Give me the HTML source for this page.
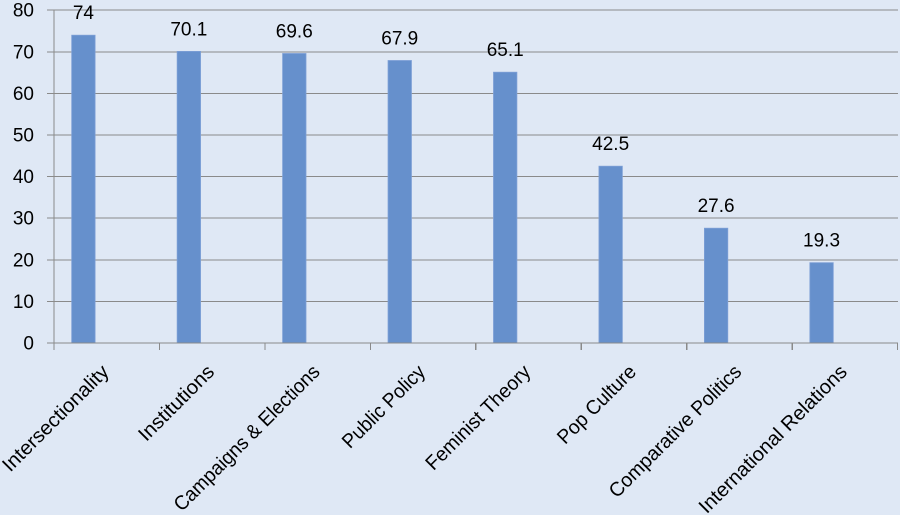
<!DOCTYPE html>
<html>
<head>
<meta charset="utf-8">
<style>
  html, body { margin: 0; padding: 0; background: #dfe8f5; }
  svg { display: block; }
  text { font-family: "Liberation Sans", "DejaVu Sans", sans-serif; fill: #000; }
</style>
</head>
<body>
<svg width="900" height="515" viewBox="0 0 900 515" xmlns="http://www.w3.org/2000/svg">
  <rect x="0" y="0" width="900" height="515" fill="#dfe8f5"/>
  <!-- gridlines -->
  <g stroke="#8a8a8a" stroke-width="1" shape-rendering="crispEdges">
    <line x1="47" y1="301.4" x2="898" y2="301.4"/>
    <line x1="47" y1="259.8" x2="898" y2="259.8"/>
    <line x1="47" y1="218.2" x2="898" y2="218.2"/>
    <line x1="47" y1="176.6" x2="898" y2="176.6"/>
    <line x1="47" y1="135" x2="898" y2="135"/>
    <line x1="47" y1="93.4" x2="898" y2="93.4"/>
    <line x1="47" y1="51.8" x2="898" y2="51.8"/>
    <line x1="47" y1="10.2" x2="898" y2="10.2"/>
  </g>
  <!-- bars -->
  <g fill="#6690cc" stroke="#7d9fd6" stroke-width="0.8">
    <rect x="71.7" y="35.2" width="23.4" height="307.8"/>
    <rect x="177.15" y="51.4" width="23.4" height="291.6"/>
    <rect x="282.6" y="53.5" width="23.4" height="289.5"/>
    <rect x="388.05" y="60.5" width="23.4" height="282.5"/>
    <rect x="493.5" y="72.2" width="23.4" height="270.8"/>
    <rect x="598.95" y="166.2" width="23.4" height="176.8"/>
    <rect x="704.4" y="228.2" width="23.4" height="114.8"/>
    <rect x="809.85" y="262.7" width="23.4" height="80.3"/>
  </g>
  <!-- axes -->
  <g stroke="#8a8a8a" stroke-width="1.2" shape-rendering="crispEdges">
    <line x1="54" y1="10" x2="54" y2="343"/>
    <line x1="47" y1="343" x2="898" y2="343"/>
    <line x1="54" y1="343" x2="54" y2="350"/>
    <line x1="159.45" y1="343" x2="159.45" y2="350"/>
    <line x1="264.9" y1="343" x2="264.9" y2="350"/>
    <line x1="370.35" y1="343" x2="370.35" y2="350"/>
    <line x1="475.8" y1="343" x2="475.8" y2="350"/>
    <line x1="581.25" y1="343" x2="581.25" y2="350"/>
    <line x1="686.7" y1="343" x2="686.7" y2="350"/>
    <line x1="792.15" y1="343" x2="792.15" y2="350"/>
    <line x1="897.6" y1="343" x2="897.6" y2="350"/>
  </g>
  <!-- y tick labels -->
  <g font-size="19" text-anchor="end">
    <text x="34" y="349.5">0</text>
    <text x="34" y="307.9">10</text>
    <text x="34" y="266.3">20</text>
    <text x="34" y="224.7">30</text>
    <text x="34" y="183.1">40</text>
    <text x="34" y="141.5">50</text>
    <text x="34" y="99.9">60</text>
    <text x="34" y="58.3">70</text>
    <text x="34" y="16.7">80</text>
  </g>
  <!-- value labels -->
  <g font-size="19" text-anchor="middle">
    <text x="83.4" y="19.2">74</text>
    <text x="188.85" y="35.4">70.1</text>
    <text x="294.3" y="37.5">69.6</text>
    <text x="399.75" y="44.5">67.9</text>
    <text x="505.2" y="56.2">65.1</text>
    <text x="610.65" y="150.2">42.5</text>
    <text x="716.1" y="212.2">27.6</text>
    <text x="821.55" y="246.7">19.3</text>
  </g>
  <!-- category labels -->
  <g font-size="20" text-anchor="end">
    <text transform="translate(110,373) rotate(-45)" textLength="141" lengthAdjust="spacingAndGlyphs">Intersectionality</text>
    <text transform="translate(215.5,373) rotate(-45)" textLength="98" lengthAdjust="spacingAndGlyphs">Institutions</text>
    <text transform="translate(321,373) rotate(-45)" textLength="197" lengthAdjust="spacingAndGlyphs">Campaigns &amp; Elections</text>
    <text transform="translate(426.4,373) rotate(-45)" textLength="108" lengthAdjust="spacingAndGlyphs">Public Policy</text>
    <text transform="translate(531.8,373) rotate(-45)" textLength="139" lengthAdjust="spacingAndGlyphs">Feminist Theory</text>
    <text transform="translate(637.3,373) rotate(-45)" textLength="102" lengthAdjust="spacingAndGlyphs">Pop Culture</text>
    <text transform="translate(742.7,373) rotate(-45)" textLength="178" lengthAdjust="spacingAndGlyphs">Comparative Politics</text>
    <text transform="translate(848.2,373) rotate(-45)" textLength="200" lengthAdjust="spacingAndGlyphs">International Relations</text>
  </g>
</svg>
</body>
</html>
